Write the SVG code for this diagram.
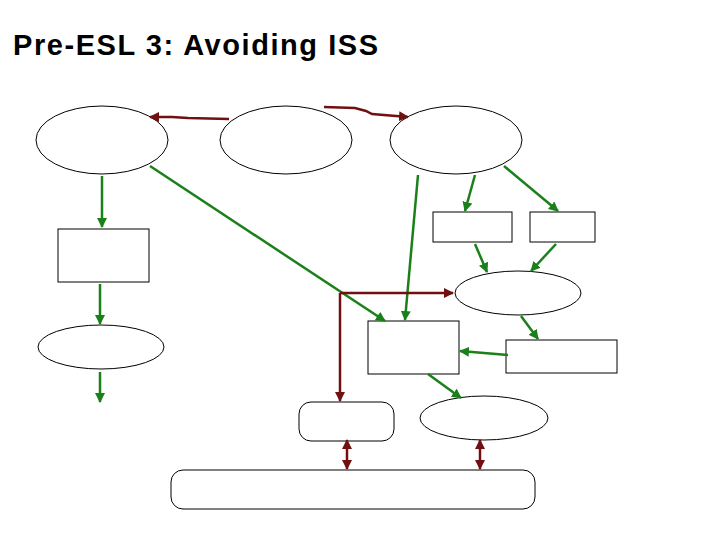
<svg xmlns="http://www.w3.org/2000/svg" width="720" height="540" viewBox="0 0 720 540">
<style>
.s{fill:#fff;stroke:#000;stroke-width:1}
.g{stroke:#1a801a;stroke-width:2.5;fill:none;marker-end:url(#ag)}
.r{stroke:#701010;stroke-width:2.5;fill:none;marker-end:url(#ar)}
.rb{stroke:#701010;stroke-width:2.5;fill:none;marker-end:url(#ar);marker-start:url(#ars)}
</style>
<defs>
<marker id="ag" viewBox="0 0 10 10" refX="9" refY="5" markerWidth="4" markerHeight="4" orient="auto"><path d="M0,0L10,5L0,10z" fill="#1a801a"/></marker>
<marker id="ar" viewBox="0 0 10 10" refX="9" refY="5" markerWidth="4" markerHeight="4" orient="auto"><path d="M0,0L10,5L0,10z" fill="#701010"/></marker>
<marker id="ars" viewBox="0 0 10 10" refX="1" refY="5" markerWidth="4" markerHeight="4" orient="auto"><path d="M10,0L0,5L10,10z" fill="#701010"/></marker>
</defs>
<rect width="720" height="540" fill="#fff"/>
<text x="13" y="55" font-family="Liberation Sans, Arial, sans-serif" font-size="29" font-weight="bold" textLength="365" lengthAdjust="spacing" fill="#000">Pre-ESL 3: Avoiding ISS</text>
<g id="n1"><ellipse class="s" cx="102" cy="140" rx="66" ry="34"/></g>
<g id="n2"><ellipse class="s" cx="286" cy="140" rx="66" ry="34"/></g>
<g id="n3"><ellipse class="s" cx="456" cy="140" rx="66" ry="34"/></g>
<g id="n4"><rect class="s" x="58" y="229" width="91" height="53"/></g>
<g id="n5"><ellipse class="s" cx="101" cy="347" rx="63" ry="22"/></g>
<g id="n6"><rect class="s" x="433" y="212" width="79" height="30"/></g>
<g id="n7"><rect class="s" x="530" y="212" width="65" height="30"/></g>
<g id="n8"><ellipse class="s" cx="518" cy="293" rx="63" ry="22"/></g>
<g id="n9"><rect class="s" x="368" y="321" width="91" height="53"/></g>
<g id="n10"><rect class="s" x="506" y="340" width="111" height="33"/></g>
<g id="n11"><rect class="s" x="299" y="402" width="95" height="39" rx="12"/></g>
<g id="n12"><ellipse class="s" cx="484" cy="418" rx="64" ry="22"/></g>
<g id="n13"><rect class="s" x="171" y="470" width="364" height="39" rx="12"/></g>
<g id="connectors">
<path class="r" d="M229,119 L188,118 L172,117 L150,117"/>
<path class="r" d="M324,107 L355,108 L366,111 L372,114 L408,117"/>
<path class="g" d="M102,176 L102,227"/>
<path class="g" d="M100,284 L100,324"/>
<path class="g" d="M100,372 L100,402"/>
<path class="g" d="M150,166 L385,321"/>
<path class="g" d="M418,175 L405,320"/>
<path class="g" d="M475,175 L465,211"/>
<path class="g" d="M504,166 L558,211"/>
<path class="g" d="M475,244 L487,272"/>
<path class="g" d="M556,244 L531,271"/>
<path class="g" d="M521,316 L538,339"/>
<path class="g" d="M508,355 L460,351"/>
<path class="g" d="M428,374 L461,398"/>
<path class="r" d="M340,293 L453,293"/>
<path class="r" d="M340,293 L340,401"/>
<path class="rb" d="M347,440 L347,469"/>
<path class="rb" d="M480,440 L480,469"/>
</g>
</svg>
